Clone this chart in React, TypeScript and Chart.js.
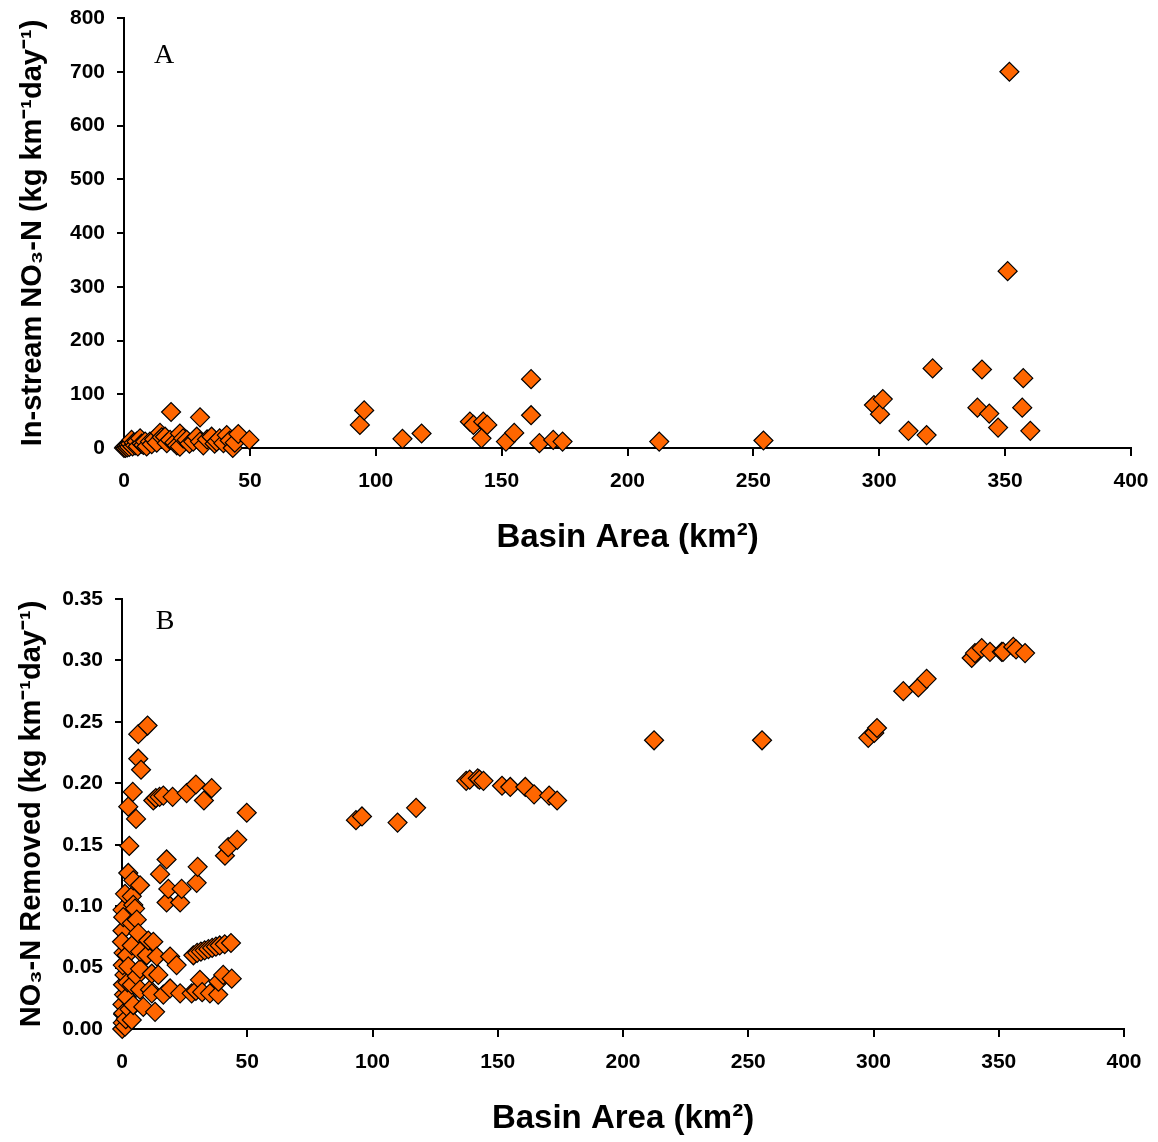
import React, { useEffect, useRef } from 'react';
import { Chart, registerables } from 'chart.js';

Chart.register(...registerables);

// ---------- Panel A: in-stream NO3-N load ----------
const areaA = [
  0, 0.3, 0.6, 1, 1.3, 1.7, 2.1, 2.5, 3, 3.4, 3.9, 4.4, 5, 5.5, 6.4, 7, 7.7, 8.4, 9, 10.3,
  11, 12, 13, 14.3, 15, 16.3, 17, 18.3, 18.7, 20, 21, 22.2, 22.2, 23.5, 24.9, 26, 27.5, 28.9,
  30.2, 30.2, 31.5, 33, 34.8, 36, 36.8, 38, 39.5, 40.8, 42, 43.2, 44, 45.4, 49.8,
  93.7, 95.4, 110.6, 118.2, 137.4, 138.8, 142.7, 144.3, 142, 151.7, 155, 161.7, 161.7, 165,
  170.5, 174.2, 212.6, 254, 297.9, 300.3, 301.4, 311.6, 318.8, 321.2, 339, 340.8, 343.7,
  347.2, 351, 351.7, 356.8, 357.2, 360,
];
const loadA = [
  0, 2, 0, 4, 1, 6, 2, 8, 15, 3, 10, 5, 12, 3, 18, 8, 5.6, 12, 3, 12,
  7, 16, 10, 28, 20, 21, 9, 15, 67, 10, 5, 27, 2.5, 18, 15, 8, 12, 21,
  12, 57, 5, 16, 21, 8, 12, 18, 9, 24, 14, 0, 10, 26, 15,
  43, 70, 17, 27, 49, 43, 49, 43, 18, 12, 28, 128, 61, 9,
  15, 12, 12, 14, 80, 63, 91, 32, 24, 148, 75, 146, 64,
  38, 329, 700, 75, 130, 32,
];

// ---------- Panel B: NO3-N removed ----------
const areaB = [
  0.1, 0.3, 0.5, 0.2, 0.8, 0.4, 1.0, 0.3, 0.5, 1.2, 0.6, 0.2, 0.0, 0.2, 0.5, 1.2, 1.5, 1.9,
  1.9, 2.2, 2.5, 2.5, 2.5, 2.9, 3.0, 3.9, 3.9, 3.9, 3.9, 3.9, 4.3, 4.5, 4.5, 4.5, 5.2, 5.6,
  5.9, 5.9, 6.5, 6.5, 6.5, 7.2, 7.2, 7.2, 7.2, 7.6, 8.5, 9.9, 10.2, 10.5, 11.2, 11.9, 11.9,
  12.5, 12.5, 13.2, 13.5, 13.9, 14.5, 15.0, 15.2, 16.5, 16.5, 17.8, 17.8, 18.5, 19.2, 19.2,
  20.2, 21.8, 23.2, 23.2, 23.8, 25.8, 27.8, 28.5, 29.5, 29.5, 29.8, 30.0, 30.2, 31.1, 31.5,
  32.0, 32.7, 33.0, 34.5, 35.1, 35.8, 36.0, 37.5, 38.4, 38.5, 39.0, 40.4, 41.0, 41.1, 42.4,
  43.5, 43.8, 46.0, 49.8,
  93.4, 95.8, 110, 117.4, 137.4, 138.8, 142, 142.7, 144.3, 151.7, 155, 161, 164.5, 170.5,
  173.7, 212.4, 255.5, 297.9, 300.3, 301.4, 311.9, 317.9, 321.2, 339.2, 340.5, 343.2, 346.5,
  351.2, 351.7, 355.8, 356.9, 360.5,
];
const removedB = [
  0.0, 0.005, 0.012, 0.02, 0.028, 0.036, 0.044, 0.052, 0.0128, 0.0019, 0.062, 0.08, 0.071,
  0.097, 0.091, 0.11, 0.008, 0.026, 0.06, 0.038, 0.051, 0.127, 0.181, 0.149, 0.016, 0.0073,
  0.036, 0.068, 0.086, 0.108, 0.193, 0.0195, 0.101, 0.121, 0.098, 0.171, 0.043, 0.089,
  0.078, 0.22, 0.24, 0.032, 0.049, 0.063, 0.117, 0.211, 0.018, 0.06, 0.247, 0.072, 0.032,
  0.029, 0.045, 0.071, 0.186, 0.014, 0.188, 0.059, 0.044, 0.189, 0.126, 0.028, 0.19, 0.103,
  0.138, 0.114, 0.033, 0.059, 0.189, 0.052, 0.029, 0.103, 0.114, 0.192, 0.029, 0.06, 0.031,
  0.199, 0.119, 0.062, 0.132, 0.04, 0.063, 0.03, 0.186, 0.064, 0.065, 0.029, 0.196, 0.066,
  0.067, 0.028, 0.0385, 0.068, 0.044, 0.069, 0.141, 0.148, 0.07, 0.041, 0.154, 0.176,
  0.17, 0.173, 0.168, 0.18, 0.202, 0.203, 0.204, 0.203, 0.202, 0.198, 0.197, 0.197, 0.191,
  0.19, 0.186, 0.235, 0.235, 0.237, 0.241, 0.245, 0.275, 0.278, 0.285, 0.302, 0.306, 0.31,
  0.307, 0.307, 0.307, 0.311, 0.309, 0.306,
];

const xTickValues = [0, 50, 100, 150, 200, 250, 300, 350, 400];
const yTickValuesA = [0, 100, 200, 300, 400, 500, 600, 700, 800];
const yTickValuesB = [0, 0.05, 0.1, 0.15, 0.2, 0.25, 0.3, 0.35];

const xTitle = 'Basin Area (km²)';
const yTitleA = 'In-stream NO₃-N (kg km⁻¹day⁻¹)';
const yTitleB = 'NO₃-N Removed (kg km⁻¹day⁻¹)';

const SANS = '"Liberation Sans", Arial, Helvetica, sans-serif';

const panelLabel = {
  id: 'panelLabel',
  afterDraw(chart: any, _args: any, opts: any) {
    const { ctx, chartArea } = chart;
    ctx.save();
    ctx.font = '28px "Liberation Serif", "Times New Roman", serif';
    ctx.fillStyle = '#000';
    ctx.textAlign = 'center';
    ctx.textBaseline = 'alphabetic';
    ctx.fillText(opts.text, chartArea.left + opts.dx, chartArea.top + opts.dy);
    ctx.restore();
  },
};

type PanelProps = {
  xs: number[];
  ys: number[];
  yTicks: number[];
  yTitle: string;
  decimals: number;
  label: string;
  width: number;
  height: number;
  pad: { top: number; right: number };
  yWidth: number;
  xHeight: number;
  yTitlePad: number;
  xTitlePad: number;
  labelDx: number;
  labelDy: number;
};

function Panel(p: PanelProps) {
  const ref = useRef<HTMLCanvasElement | null>(null);
  useEffect(() => {
    if (!ref.current) return;
    const data = p.xs.map((x, i) => ({ x, y: p.ys[i] }));
    const yMin = p.yTicks[0];
    const yMax = p.yTicks[p.yTicks.length - 1];
    const yStep = p.yTicks[1] - p.yTicks[0];
    const chart = new Chart(ref.current, {
      type: 'scatter',
      data: {
        datasets: [
          {
            data,
            pointStyle: 'rectRot',
            pointRadius: 9.5,
            pointHoverRadius: 9.5,
            backgroundColor: '#FF6600',
            borderColor: '#000000',
            borderWidth: 1.2,
            clip: false,
          } as any,
        ],
      },
      options: {
        animation: false,
        responsive: false,
        devicePixelRatio: 1,
        layout: { padding: { top: p.pad.top, right: p.pad.right, left: 0, bottom: 0 } },
        plugins: {
          legend: { display: false },
          tooltip: { enabled: false },
          panelLabel: { text: p.label, dx: p.labelDx, dy: p.labelDy },
        } as any,
        scales: {
          x: {
            type: 'linear',
            min: xTickValues[0],
            max: xTickValues[xTickValues.length - 1],
            afterFit: (s: any) => {
              s.height = p.xHeight;
              s.paddingLeft = 0;
              s.paddingRight = 0;
            },
            afterBuildTicks: (s: any) => {
              s.ticks = xTickValues.map((v) => ({ value: v }));
            },
            ticks: {
              color: '#000',
              padding: 13,
              maxRotation: 0,
              font: { family: SANS, size: 21, weight: 'bold' },
              callback: (v: any) => String(v),
            },
            grid: {
              drawOnChartArea: false,
              drawTicks: true,
              tickLength: 8,
              color: '#000',
              lineWidth: 2,
            },
            border: { display: true, color: '#000', width: 2 },
            title: {
              display: true,
              text: xTitle,
              color: '#000',
              font: { family: SANS, size: 33, weight: 'bold' },
              padding: { top: 0, bottom: p.xTitlePad },
            },
          },
          y: {
            type: 'linear',
            min: yMin,
            max: yMax,
            afterFit: (s: any) => {
              s.width = p.yWidth;
              s.paddingTop = 0;
              s.paddingBottom = 0;
            },
            afterBuildTicks: (s: any) => {
              s.ticks = p.yTicks.map((v) => ({ value: v }));
            },
            ticks: {
              color: '#000',
              padding: 12,
              stepSize: yStep,
              font: { family: SANS, size: 21, weight: 'bold' },
              callback: (v: any) => Number(v).toFixed(p.decimals),
            },
            grid: {
              drawOnChartArea: false,
              drawTicks: true,
              tickLength: 7,
              color: '#000',
              lineWidth: 2,
            },
            border: { display: true, color: '#000', width: 2 },
            title: {
              display: true,
              text: p.yTitle,
              color: '#000',
              font: { family: SANS, size: 29, weight: 'bold' },
              padding: { top: p.yTitlePad, bottom: 0 },
            },
          },
        },
      },
      plugins: [panelLabel as any],
    });
    return () => chart.destroy();
  }, []);
  return (
    <canvas
      ref={ref}
      width={p.width}
      height={p.height}
      style={{ display: 'block', width: p.width + 'px', height: p.height + 'px' }}
    />
  );
}

export default function App() {
  return (
    <div
      style={{
        position: 'absolute',
        left: 0,
        top: 0,
        width: 1158,
        height: 1142,
        background: '#fff',
      }}
    >
      <Panel
        xs={areaA}
        ys={loadA}
        yTicks={yTickValuesA}
        yTitle={yTitleA}
        decimals={0}
        label="A"
        width={1158}
        height={575}
        pad={{ top: 18, right: 27 }}
        yWidth={124}
        xHeight={127}
        yTitlePad={16}
        xTitlePad={17}
        labelDx={40}
        labelDy={45}
      />
      <Panel
        xs={areaB}
        ys={removedB}
        yTicks={yTickValuesB}
        yTitle={yTitleB}
        decimals={2}
        label="B"
        width={1158}
        height={567}
        pad={{ top: 24, right: 34 }}
        yWidth={122}
        xHeight={113}
        yTitlePad={15}
        xTitlePad={3}
        labelDx={43}
        labelDy={30}
      />
    </div>
  );
}
